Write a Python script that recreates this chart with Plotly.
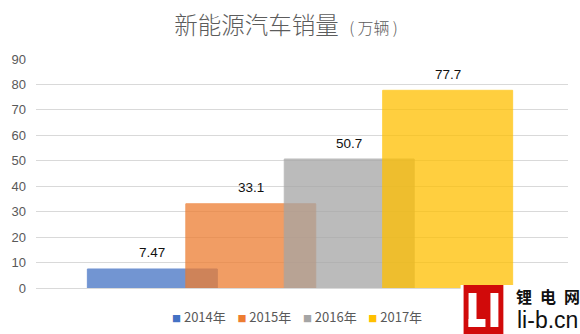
import plotly.graph_objects as go

# Sales of new energy vehicles, in units of 10,000 vehicles
years = ["2014年", "2015年", "2016年", "2017年"]
sales = [7.47, 33.1, 50.7, 77.7]
colors = ["#4472C4", "#ED7D31", "#A5A5A5", "#FFC000"]
y_ticks = [0, 10, 20, 30, 40, 50, 60, 70, 80, 90]

W, H = 580, 334
M_L, M_R, M_T, M_B = 33, 12, 59, 46
PLOT_W = W - M_L - M_R
PLOT_H = H - M_T - M_B


def px_x(px):
    return (px - M_L) / PLOT_W


def px_y(py):
    return (H - M_B - py) / PLOT_H


positions = list(range(1, len(years) + 1))
bar_width = 1.32
x_lo = 1 - 117.0 / 99
x_hi = x_lo + PLOT_W / 99

fig = go.Figure()
for pos, name, val, col in zip(positions, years, sales, colors):
    fig.add_trace(go.Bar(
        x=[pos], y=[val], name=name, width=bar_width,
        marker=dict(color=col, line=dict(color=col, width=1)),
        opacity=0.75, showlegend=False, hoverinfo="skip",
    ))

label_font = dict(family="Liberation Sans, Arial, sans-serif", size=13.5, color="#111111")
annotations = []
for pos, val in zip(positions, sales):
    annotations.append(dict(
        x=pos, y=val, xref="x", yref="y", text=f"{val:g}", showarrow=False,
        yanchor="middle", yshift=16, font=label_font,
    ))

# Legend row: small coloured squares followed by the year
sep = "\u00a0" * 4
legend_text = sep.join(
    f"<span style='color:{c};font-size:9px'>■</span>\u00a0{n}" for n, c in zip(years, colors)
)
annotations.append(dict(
    x=px_x(295), y=px_y(316), xref="paper", yref="paper", text=legend_text,
    showarrow=False, xanchor="center", yanchor="middle",
    font=dict(family="Noto Sans CJK SC, sans-serif", size=13, color="#595959"),
))

# Site mark in the lower right corner
annotations.append(dict(
    x=px_x(548), y=px_y(296), xref="paper", yref="paper", text="<b>锂\u2002电\u2002网</b>",
    showarrow=False, xanchor="center", yanchor="middle",
    font=dict(family="Noto Sans CJK SC, sans-serif", size=16, color="#111111"),
))
annotations.append(dict(
    x=px_x(547), y=px_y(320), xref="paper", yref="paper", text="li-b.cn",
    showarrow=False, xanchor="center", yanchor="middle",
    font=dict(family="Liberation Sans, Arial, sans-serif", size=23, color="#111111"),
))

shapes = [
    dict(type="rect", xref="paper", yref="paper", layer="above",
         x0=px_x(460), x1=px_x(582), y0=px_y(336), y1=px_y(285),
         fillcolor="white", line=dict(width=0)),
    dict(type="rect", xref="paper", yref="paper", layer="above",
         x0=px_x(463), x1=px_x(503), y0=px_y(336), y1=px_y(285),
         fillcolor="#D10A0A", line=dict(width=0)),
    # "L"
    dict(type="rect", xref="paper", yref="paper", layer="above",
         x0=px_x(468), x1=px_x(476), y0=px_y(327), y1=px_y(293),
         fillcolor="white", line=dict(width=0)),
    dict(type="rect", xref="paper", yref="paper", layer="above",
         x0=px_x(468), x1=px_x(485), y0=px_y(327), y1=px_y(319),
         fillcolor="white", line=dict(width=0)),
    # "I"
    dict(type="rect", xref="paper", yref="paper", layer="above",
         x0=px_x(490), x1=px_x(498), y0=px_y(327), y1=px_y(293),
         fillcolor="white", line=dict(width=0)),
]

fig.update_layout(
    width=W, height=H,
    margin=dict(l=M_L, r=M_R, t=M_T, b=M_B),
    paper_bgcolor="white", plot_bgcolor="white",
    barmode="overlay",
    title=dict(
        text="新能源汽车销量\u00a0\u00a0<span style='font-size:16px'>(\u2009万辆\u2009)</span>",
        x=286 / W, xref="container", xanchor="center",
        y=1 - 26 / H, yref="container", yanchor="middle",
        font=dict(family="Noto Sans CJK SC, sans-serif", size=23.5, color="#5c5c5c",
                  weight=300),
    ),
    xaxis=dict(range=[x_lo, x_hi], showticklabels=False, showgrid=False,
               zeroline=False, fixedrange=True),
    yaxis=dict(range=[0, 90], tickvals=y_ticks, showgrid=True, gridcolor="#D9D9D9",
               gridwidth=1, zeroline=True, zerolinecolor="#D9D9D9", zerolinewidth=1,
               ticks="", ticklabelstandoff=9,
               tickfont=dict(family="Liberation Sans, Arial, sans-serif", size=13,
                             color="#595959")),
    annotations=annotations,
    shapes=shapes,
    showlegend=False,
)

fig.write_html("out.html")
